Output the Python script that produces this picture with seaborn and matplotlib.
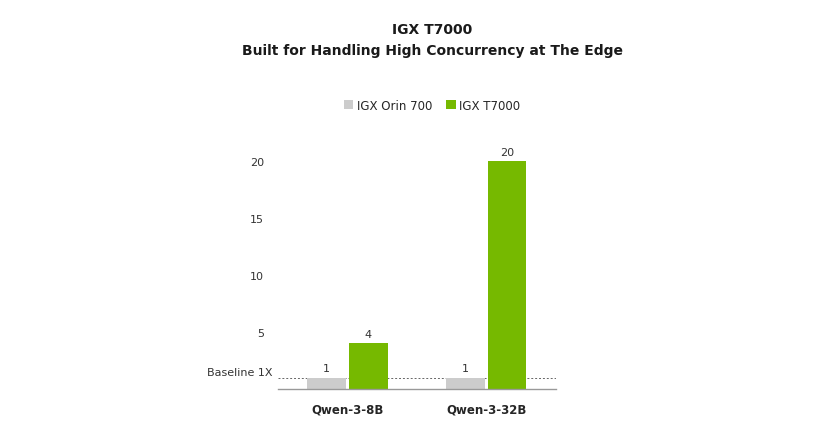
import pandas as pd
import matplotlib
matplotlib.use('Agg')
import matplotlib.pyplot as plt
import seaborn as sns

# values
models = ['Qwen-3-8B', 'Qwen-3-32B']
orin_700 = [1, 1]
t7000 = [4, 20]
series_names = ['IGX Orin 700', 'IGX T7000']
yticks = [5, 10, 15, 20]
baseline = 1

df = pd.DataFrame({
    'model': models * 2,
    'system': [series_names[0]] * len(models) + [series_names[1]] * len(models),
    'speedup': orin_700 + t7000,
})

sns.set_style('white')
plt.rcParams['font.family'] = ['DejaVu Sans']

fig = plt.figure(figsize=(8.2, 4.35), dpi=100)
ax = fig.add_axes([0.339, 0.1034, 0.339, 0.551])

sns.barplot(data=df, x='model', y='speedup', hue='system',
            palette=['#cccccc', '#76b900'], saturation=1, width=0.6, gap=0.08,
            linewidth=0, ax=ax, legend=True)

for cont in ax.containers:
    ax.bar_label(cont, labels=[str(int(v)) for v in cont.datavalues],
                 padding=3, fontsize=8, color='#333333')

ax.axhline(baseline, color='#666666', linestyle=(0, (2, 2)), linewidth=0.7, zorder=0)
ax.text(-0.02, baseline + 0.05, 'Baseline 1X', transform=ax.get_yaxis_transform(),
        ha='right', va='bottom', fontsize=8, color='#333333')

ax.set_xlim(-0.5, 1.5)
ax.set_ylim(0, 21)
ax.set_yticks(yticks)
ax.tick_params(axis='y', length=0, labelsize=8, labelcolor='#333333', pad=10)
ax.tick_params(axis='x', length=0, labelsize=8.5, pad=10)
for lbl in ax.get_xticklabels():
    lbl.set_fontweight('bold')
ax.set_xlabel('')
ax.set_ylabel('')
for side in ['top', 'right', 'left']:
    ax.spines[side].set_visible(False)
ax.spines['bottom'].set_color('#999999')
ax.spines['bottom'].set_linewidth(1.0)

handles, labels = ax.get_legend_handles_labels()
ax.get_legend().remove()
fig.legend(handles, labels, loc='center', bbox_to_anchor=(0.527, 0.756),
           ncol=2, frameon=False, fontsize=8.5, handlelength=0.8,
           handleheight=0.8, handletextpad=0.3, columnspacing=1.2)

fig.text(0.527, 0.93, 'IGX T7000', ha='center', va='center',
         fontsize=10, fontweight='bold', color='#1a1a1a')
fig.text(0.527, 0.883, 'Built for Handling High Concurrency at The Edge',
         ha='center', va='center', fontsize=10, fontweight='bold', color='#1a1a1a')

fig.savefig('out.png', dpi=100, facecolor='white')
